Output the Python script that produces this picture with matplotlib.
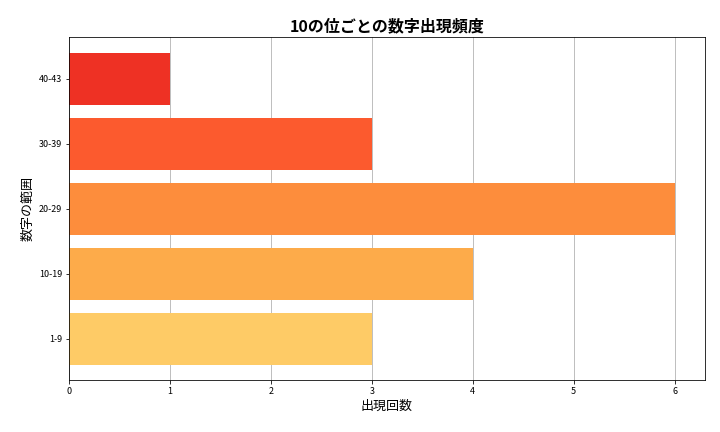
import matplotlib
matplotlib.use("Agg")
import matplotlib.pyplot as plt

plt.rcParams['font.family'] = 'Noto Sans CJK JP'

ranges = ['1-9', '10-19', '20-29', '30-39', '40-43']
counts = [3, 4, 6, 3, 1]
colors = ['#fecb66', '#fdab4a', '#fd8d3c', '#fc5a2e', '#ee3124']

fig, ax = plt.subplots(figsize=(10, 6), dpi=72)
ax.barh(ranges, counts, color=colors, height=0.8, zorder=2)
ax.grid(axis='x', color='#b0b0b0', zorder=0)
ax.set_xlim(0, 6.3)
ax.set_title('10の位ごとの数字出現頻度', fontsize=16, fontweight='bold')
ax.set_xlabel('出現回数', fontsize=13)
ax.set_ylabel('数字の範囲', fontsize=13)
ax.tick_params(labelsize=9)
fig.subplots_adjust(left=0.096, right=0.979, top=0.914, bottom=0.12)
fig.savefig('out.png')
